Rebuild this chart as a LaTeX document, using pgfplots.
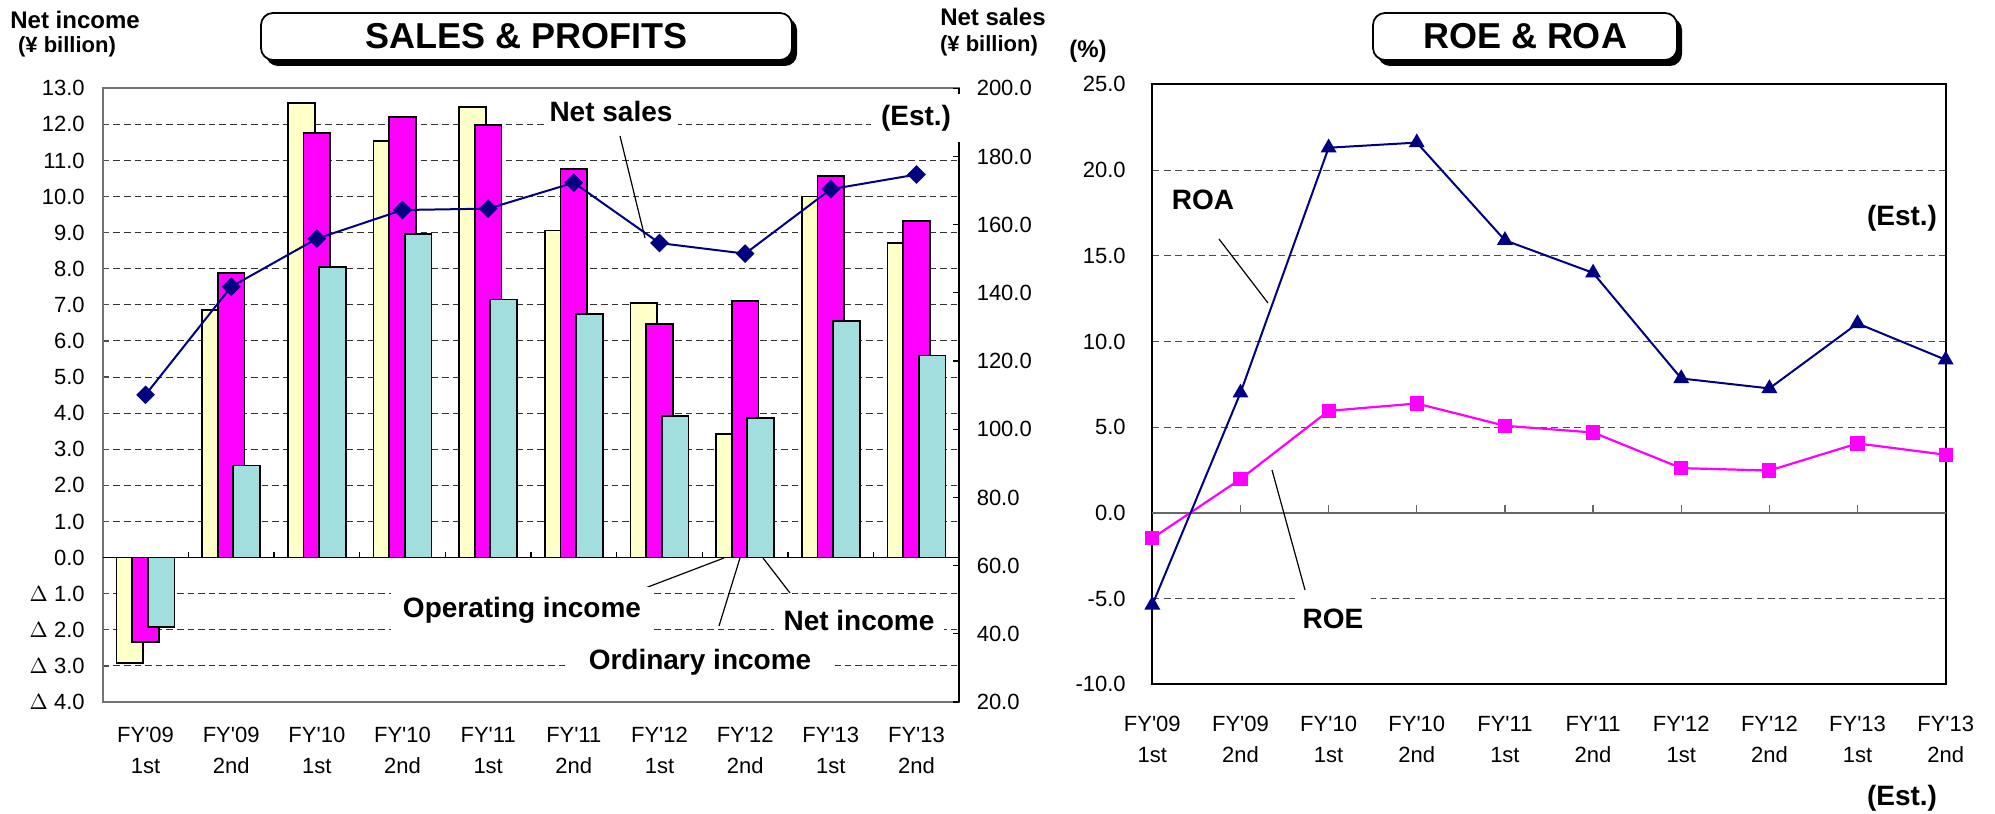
\documentclass[border=0pt]{standalone}
\usepackage{fontspec}
\setmainfont{Liberation Sans}
\usepackage{pgfplots}
\pgfplotsset{compat=1.18}
\definecolor{navyc}{RGB}{0,0,128}
\definecolor{magc}{RGB}{255,0,255}
\definecolor{yelc}{RGB}{255,255,200}
\definecolor{cyac}{RGB}{163,222,222}
\newcommand\q{\textquotesingle}
\newcommand\tk{\fontsize{11}{15.5}\selectfont}
\newcommand\lb{\fontsize{14}{16}\selectfont\bfseries}
\newcommand\ttl{\fontsize{18}{20}\selectfont\bfseries}
\begin{document}
\begin{tikzpicture}
\path[use as bounding box] (0,0) rectangle (997.5pt,406.5pt);
% ---------------- SALES & PROFITS : bars (left axis) ----------------
\begin{axis}[
  at={(51.35pt,55.5pt)}, anchor=south west, scale only axis,
  width=428.3pt, height=306.85pt,
  xmin=-0.5, xmax=9.5, ymin=-4, ymax=13,
  ytick={-4,-3,...,13},
  yticklabels={{$\Delta$ 4.0},{$\Delta$ 3.0},{$\Delta$ 2.0},{$\Delta$ 1.0},0.0,1.0,2.0,3.0,4.0,5.0,6.0,7.0,8.0,9.0,10.0,11.0,12.0,13.0},
  ytick pos=left, tick align=inside, major tick length=3pt,
  ytick style={black!70, line width=0.6pt},
  xtick={0,...,9},
  xticklabels={{FY\q09\\1st},{FY\q09\\2nd},{FY\q10\\1st},{FY\q10\\2nd},{FY\q11\\1st},{FY\q11\\2nd},{FY\q12\\1st},{FY\q12\\2nd},{FY\q13\\1st},{FY\q13\\2nd}},
  xtick style={draw=none},
  xticklabel style={font=\tk, align=center, yshift=-9pt},
  yticklabel style={font=\tk, xshift=-5.5pt},
  ymajorgrids,
  grid style={black!80, line width=0.5pt, dash pattern=on 3.3pt off 2pt},
  axis line style={black!55, line width=0.9pt},
]
\addplot[ybar, bar width=13.4pt, bar shift=-7.8pt, fill=yelc, draw=black, line width=0.9pt]
  coordinates {(0,-2.93) (1,6.85) (2,12.6) (3,11.55) (4,12.48) (5,9.06) (6,7.06) (7,3.42) (8,10.0) (9,8.71)};
\addplot[ybar, bar width=13.4pt, bar shift=0pt, fill=magc, draw=black, line width=0.9pt]
  coordinates {(0,-2.33) (1,7.88) (2,11.76) (3,12.21) (4,11.99) (5,10.77) (6,6.46) (7,7.1) (8,10.57) (9,9.32)};
\addplot[ybar, bar width=13.4pt, bar shift=7.8pt, fill=cyac, draw=black, line width=0.9pt]
  coordinates {(0,-1.92) (1,2.55) (2,8.05) (3,8.97) (4,7.15) (5,6.74) (6,3.92) (7,3.87) (8,6.56) (9,5.6)};
\draw[black, line width=0.8pt] (axis cs:-0.5,0) -- (axis cs:9.5,0);
\pgfplotsinvokeforeach{0.5,1.5,2.5,3.5,4.5,5.5,6.5,7.5,8.5}{\draw[black, line width=0.6pt] (axis cs:#1,0) -- ([yshift=3pt]axis cs:#1,0);}
\end{axis}
% ---------------- net sales (right axis) ----------------
\begin{axis}[
  at={(51.35pt,55.5pt)}, anchor=south west, scale only axis,
  width=428.3pt, height=306.85pt,
  xmin=-0.5, xmax=9.5, ymin=20, ymax=200,
  axis y line*=right, axis x line=none,
  axis line style={-, black, line width=0.9pt},
  ytick={20,40,...,200}, tick align=inside, major tick length=3pt,
  ytick style={black, line width=0.6pt},
  yticklabel style={font=\tk, xshift=5.2pt, /pgf/number format/fixed, /pgf/number format/fixed zerofill, /pgf/number format/precision=1},
  /pgf/number format/assume math mode=true,
]
\addplot[navyc, line width=1pt, mark=square*, mark size=2.8pt, mark options={rotate=45, fill=navyc, solid}]
  coordinates {(0,110.1) (1,141.8) (2,155.9) (3,164.3) (4,164.7) (5,172.3) (6,154.6) (7,151.5) (8,170.4) (9,174.7)};
\end{axis}
% ---------------- ROE & ROA ----------------
\begin{axis}[
  at={(576.15pt,64.35pt)}, anchor=south west, scale only axis,
  width=396.7pt, height=300pt,
  xmin=0, xmax=9, ymin=-10, ymax=25,
  ytick={-10,-5,0,5,10,15,20,25},
  yticklabels={-10.0,-5.0,0.0,5.0,10.0,15.0,20.0,25.0},
  ytick style={draw=none},
  xtick={0,...,9},
  xticklabels={{FY\q09\\1st},{FY\q09\\2nd},{FY\q10\\1st},{FY\q10\\2nd},{FY\q11\\1st},{FY\q11\\2nd},{FY\q12\\1st},{FY\q12\\2nd},{FY\q13\\1st},{FY\q13\\2nd}},
  xtick style={draw=none},
  xticklabel style={font=\tk, align=center, yshift=-12.5pt},
  yticklabel style={font=\tk, xshift=-9.8pt},
  ymajorgrids,
  grid style={black!70, line width=0.5pt, dash pattern=on 3.5pt off 2.2pt},
  axis line style={black, line width=1.1pt},
  clip=false,
]
\draw[black!60, line width=0.8pt] (axis cs:0,0) -- (axis cs:9,0);
\pgfplotsinvokeforeach{1,2,3,4,5,6,7,8}{\draw[black!60, line width=0.6pt] (axis cs:#1,0) -- ([yshift=4pt]axis cs:#1,0);}
\addplot[magc, line width=1.1pt, mark=square*, mark size=3pt, mark options={fill=magc, solid}]
  coordinates {(0,-1.48) (1,1.97) (2,5.95) (3,6.38) (4,5.08) (5,4.69) (6,2.61) (7,2.47) (8,4.05) (9,3.39)};
\addplot[navyc, line width=1pt, mark=triangle*, mark size=3.6pt, mark options={fill=navyc, solid}]
  coordinates {(0,-5.37) (1,7.0) (2,21.3) (3,21.6) (4,15.9) (5,14.0) (6,7.84) (7,7.26) (8,11.05) (9,8.93)};
\end{axis}
% ---------------- annotations ----------------
\node[anchor=west, font=\fontsize{12}{14}\selectfont\bfseries, inner sep=0pt] at (5pt,396.5pt) {Net income};
\node[font=\fontsize{11}{12}\selectfont\bfseries, inner sep=0pt] at (33.5pt,383pt) {(¥ billion)};
\node[font=\fontsize{12}{14}\selectfont\bfseries, inner sep=0pt] at (496.5pt,398pt) {Net sales};
\node[font=\fontsize{11}{12}\selectfont\bfseries, inner sep=0pt] at (494.5pt,383.5pt) {(¥ billion)};
% title boxes
\fill[black, rounded corners=6pt] (133pt,373.5pt) rectangle (398.5pt,397.5pt);
\draw[fill=white, line width=0.9pt, rounded corners=6pt] (130.5pt,376.5pt) rectangle (396pt,400pt);
\node[font=\ttl] at (263.25pt,388.25pt) {SALES \& PROFITS};
\fill[black, rounded corners=6pt] (689pt,373.5pt) rectangle (841pt,397.5pt);
\draw[fill=white, line width=0.9pt, rounded corners=6pt] (686.5pt,376.5pt) rectangle (838.5pt,400pt);
\node[font=\ttl] at (762.5pt,388.25pt) {ROE \& ROA};
% left chart labels
\draw[black, line width=0.6pt] (310pt,338.5pt) -- (322.5pt,287.5pt);
\node[font=\lb, fill=white, inner sep=3pt] at (305.5pt,350.5pt) {Net sales};
\node[font=\lb, fill=white, inner xsep=5pt, minimum height=24pt] at (458pt,347.5pt) {(Est.)};
\draw[black, line width=0.6pt] (320pt,111.5pt) -- (362pt,127.5pt);
\draw[black, line width=0.6pt] (359.5pt,93.5pt) -- (370pt,127.5pt);
\draw[black, line width=0.6pt] (395pt,110pt) -- (381.5pt,127.5pt);
\node[font=\lb, fill=white, inner xsep=6pt, minimum height=23pt] at (261pt,101.5pt) {Operating income};
\node[font=\lb, fill=white, inner xsep=12pt, inner ysep=3pt] at (350pt,75.5pt) {Ordinary income};
\node[font=\lb, fill=white, inner xsep=5pt, inner ysep=2pt] at (429.5pt,96.5pt) {Net income};
% right chart labels
\node[font=\fontsize{12}{14}\selectfont\bfseries] at (544pt,381pt) {(\%)};
\draw[black, line width=0.6pt] (609.5pt,287pt) -- (634pt,255pt);
\node[font=\lb] at (601.5pt,306.5pt) {ROA};
\node[font=\lb] at (951pt,297.5pt) {(Est.)};
\draw[black, line width=0.6pt] (636pt,171.5pt) -- (652.5pt,111.5pt);
\node[font=\lb, fill=white, inner xsep=4pt, minimum height=22pt] at (666.5pt,97pt) {ROE};
\node[font=\lb] at (951pt,7.5pt) {(Est.)};
\end{tikzpicture}
\end{document}
